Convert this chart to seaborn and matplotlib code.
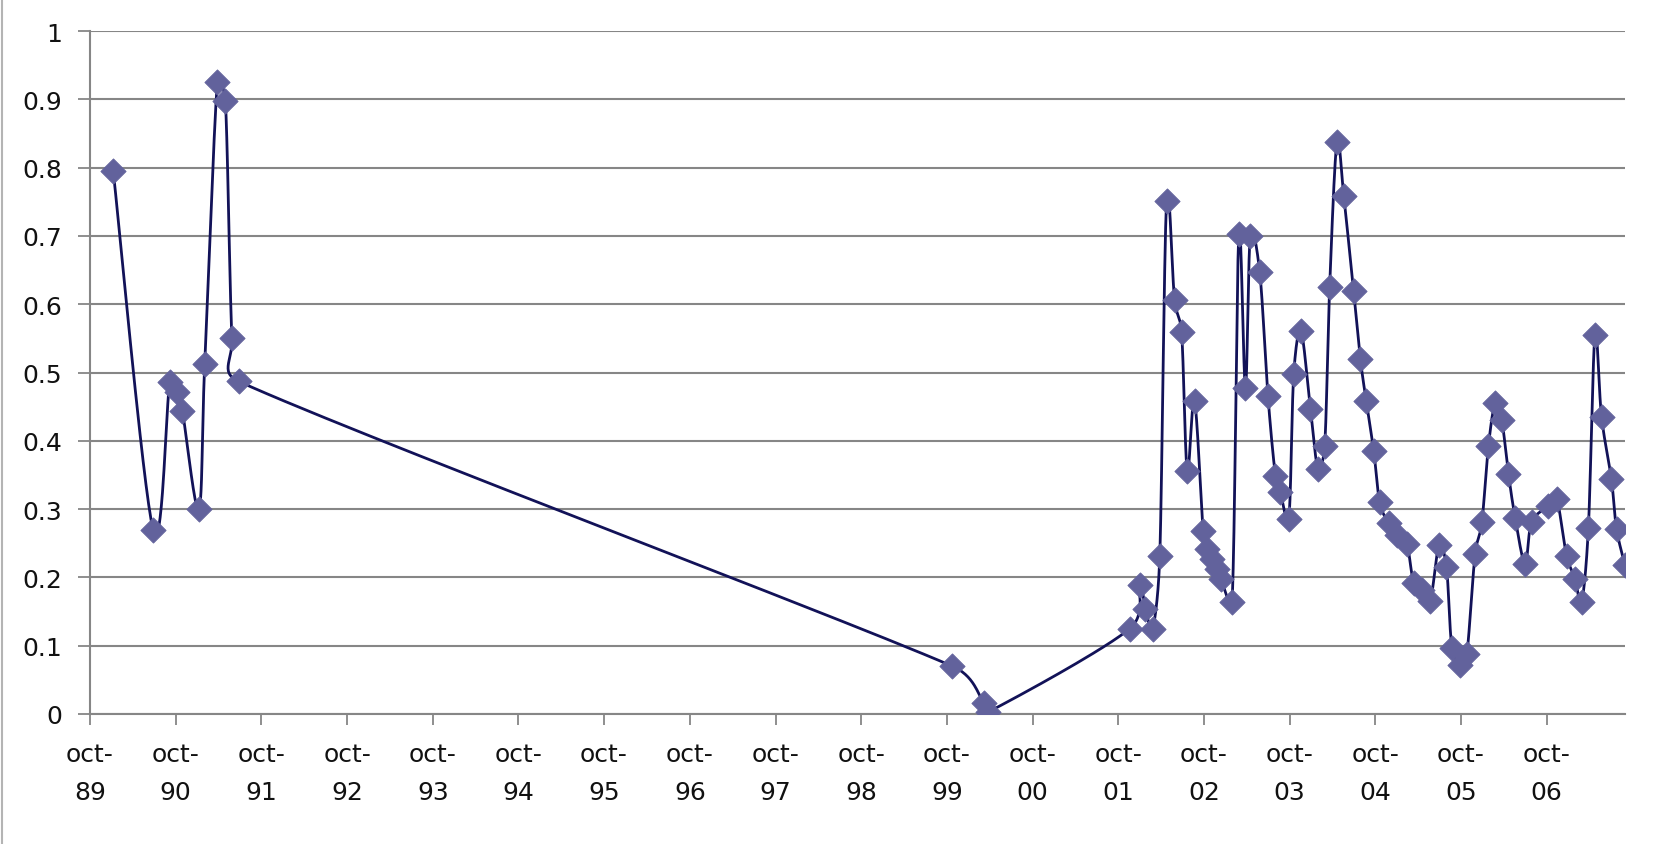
import numpy as np
import pandas as pd
import matplotlib
matplotlib.use("Agg")
import matplotlib.pyplot as plt
import matplotlib.dates as mdates
import seaborn as sns

# Observation dates and values of the series
dates = [
    "1990-01-08", "1990-06-27", "1990-09-06", "1990-10-05", "1990-10-30",
    "1991-01-08", "1991-02-02", "1991-03-28", "1991-05-01", "1991-05-29",
    "1991-06-27", "1999-10-25", "2000-03-08", "2000-03-26", "2001-11-19",
    "2001-12-31", "2002-01-25", "2002-02-25", "2002-03-27", "2002-04-25",
    "2002-05-29", "2002-06-28", "2002-07-22", "2002-08-22", "2002-09-28",
    "2002-10-15", "2002-11-04", "2002-11-25", "2002-12-12", "2003-01-29",
    "2003-02-27", "2003-03-27", "2003-04-17", "2003-05-27", "2003-07-01",
    "2003-08-02", "2003-08-23", "2003-09-28", "2003-10-19", "2003-11-19",
    "2003-12-29", "2004-01-30", "2004-02-28", "2004-03-20", "2004-04-20",
    "2004-05-19", "2004-06-30", "2004-07-29", "2004-08-23", "2004-09-24",
    "2004-10-19", "2004-11-26", "2005-01-01", "2005-02-12", "2005-03-13",
    "2005-04-17", "2005-05-23", "2005-06-29", "2005-07-31", "2005-08-23",
    "2005-09-28", "2005-10-26", "2005-11-30", "2005-12-29", "2006-01-26",
    "2006-02-24", "2006-03-24", "2006-04-21", "2006-05-20", "2006-07-01",
    "2006-07-29", "2006-10-08", "2006-11-13", "2006-12-25", "2007-01-30",
    "2007-02-27", "2007-03-28", "2007-04-25", "2007-05-23", "2007-07-04",
    "2007-07-26", "2007-08-31",
]
values = [
    0.795, 0.270, 0.486, 0.471, 0.443,
    0.300, 0.512, 0.926, 0.898, 0.550,
    0.487, 0.070, 0.016, 0.003, 0.125,
    0.189, 0.154, 0.125, 0.231, 0.751,
    0.606, 0.559, 0.356, 0.459, 0.268,
    0.242, 0.227, 0.212, 0.198, 0.164,
    0.703, 0.478, 0.700, 0.647, 0.466,
    0.349, 0.325, 0.286, 0.498, 0.561,
    0.447, 0.359, 0.393, 0.625, 0.837,
    0.759, 0.620, 0.520, 0.458, 0.385,
    0.311, 0.279, 0.262, 0.249, 0.192,
    0.181, 0.166, 0.247, 0.215, 0.097,
    0.072, 0.088, 0.234, 0.281, 0.393,
    0.455, 0.430, 0.352, 0.287, 0.220,
    0.281, 0.304, 0.315, 0.232, 0.198,
    0.164, 0.273, 0.555, 0.435, 0.344,
    0.271, 0.218,
]

# Axis ticks and labels
tick_dates = [f"{y}-10-01" for y in range(1989, 2007)]
tick_labels = [f"oct-\n{y % 100:02d}" for y in range(1989, 2007)]
y_ticks = [0, 0.1, 0.2, 0.3, 0.4, 0.5, 0.6, 0.7, 0.8, 0.9, 1]
y_labels = ["0", "0.1", "0.2", "0.3", "0.4", "0.5", "0.6", "0.7", "0.8", "0.9", "1"]

LINE_COLOR = "#121258"
MARKER_COLOR = "#62629c"
GRID_COLOR = "#868686"

sns.set_theme(style="white")
plt.rcParams["font.family"] = ["DejaVu Sans"]

df = pd.DataFrame({"date": pd.to_datetime(dates), "value": values})
df["x"] = mdates.date2num(df["date"])

fig = plt.figure(figsize=(16.66, 8.45), dpi=100)
ax = fig.add_axes([90 / 1666, 1 - 715 / 845, (1625 - 90) / 1666, (715 - 32) / 845])

x_left = mdates.date2num(pd.Timestamp("1989-10-01"))
x_right = df["x"].iloc[-1]
ax.set_xlim(x_left, x_right)
ax.set_ylim(0, 1)


def bezier_smooth(points, n=30):
    """Smoothed line through the points: cubic Bezier segments whose
    control arms follow the neighbour chord, capped at half the segment."""
    ext = np.vstack([points[0], points, points[-1]])
    t = np.linspace(0, 1, n, endpoint=False)[:, None]
    out = []
    for i in range(len(points) - 1):
        p0, p1, p2, p3 = ext[i], ext[i + 1], ext[i + 2], ext[i + 3]
        d12 = np.linalg.norm(p2 - p1)
        d02 = np.linalg.norm(p2 - p0)
        d13 = np.linalg.norm(p3 - p1)
        f0 = 1 / 6 if d02 / 6 < d12 / 2 else (d12 / (2 * d02) if d02 > 0 else 0)
        f1 = 1 / 6 if d13 / 6 < d12 / 2 else (d12 / (2 * d13) if d13 > 0 else 0)
        c1 = p1 + (p2 - p0) * f0
        c2 = p2 - (p3 - p1) * f1
        seg = ((1 - t) ** 3) * p1 + 3 * ((1 - t) ** 2) * t * c1 \
            + 3 * (1 - t) * (t ** 2) * c2 + (t ** 3) * p2
        out.append(seg)
    out.append(points[-1][None, :])
    return np.vstack(out)


# smoothing is done in screen space, then mapped back to data units
disp = ax.transData.transform(df[["x", "value"]].to_numpy())
curve = ax.transData.inverted().transform(bezier_smooth(disp))
curve_df = pd.DataFrame({"x": curve[:, 0], "value": curve[:, 1]})

sns.lineplot(data=curve_df, x="x", y="value", sort=False, estimator=None,
             color=LINE_COLOR, linewidth=2.0, ax=ax, zorder=2)
sns.scatterplot(data=df, x="x", y="value", marker="D", s=165,
                color=MARKER_COLOR, edgecolor=MARKER_COLOR, linewidth=0.6,
                ax=ax, zorder=3, legend=False)

ax.set_xlim(x_left, x_right)
ax.set_ylim(0, 1)

ax.set_xticks(mdates.date2num(pd.to_datetime(tick_dates)), labels=tick_labels)
ax.set_yticks(y_ticks, labels=y_labels)
for lab in ax.get_xticklabels():
    lab.set_linespacing(1.75)

ax.tick_params(axis="x", bottom=True, direction="out", length=8, width=1.3,
               color=GRID_COLOR, pad=12, labelsize=18, labelcolor="#111111")
ax.tick_params(axis="y", left=True, direction="out", length=9, width=1.3,
               color=GRID_COLOR, pad=11, labelsize=18, labelcolor="#111111")

ax.set_xlabel("")
ax.set_ylabel("")
ax.yaxis.grid(True, color=GRID_COLOR, linewidth=1.5)
ax.xaxis.grid(False)
ax.set_axisbelow(True)
for side in ("top", "right"):
    ax.spines[side].set_visible(False)
for side in ("left", "bottom"):
    ax.spines[side].set_color(GRID_COLOR)
    ax.spines[side].set_linewidth(1.5)

# chart-area border on the left edge
fig.add_artist(plt.Line2D([1.5 / 1666, 1.5 / 1666], [0, 1],
                          transform=fig.transFigure, color="#b4b4b4", lw=1.5))

fig.savefig("out.png", dpi=100)
